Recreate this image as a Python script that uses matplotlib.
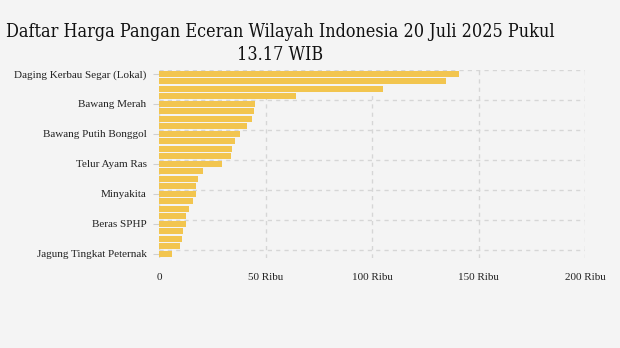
import matplotlib.pyplot as plt
import numpy as np

# data (harga dalam rupiah)
categories = [
    "Daging Kerbau Segar (Lokal)", "Daging Sapi Murni", "Daging Kerbau Beku (Impor)",
    "Cabai Rawit Merah", "Bawang Merah", "Cabai Merah Keriting", "Cabai Merah Besar",
    "Ikan Bandeng", "Bawang Putih Bonggol", "Ikan Kembung", "Daging Ayam Ras",
    "Ikan Tongkol", "Telur Ayam Ras", "Minyak Goreng Kemasan", "Gula Konsumsi",
    "Minyak Goreng Curah", "Minyakita", "Beras Premium", "Beras Medium",
    "Tepung Terigu Kemasan", "Beras SPHP", "Garam Konsumsi", "Kedelai Biji Kering (Impor)",
    "Tepung Terigu Curah", "Jagung Tingkat Peternak",
]
values = [
    140900, 134700, 105300, 64100, 45300, 44800, 43800, 41100, 38200, 35500,
    34400, 33900, 29400, 20500, 18200, 17200, 17200, 15800, 14000, 12600,
    12600, 11200, 10700, 9800, 6000,
]
xticks = [0, 50000, 100000, 150000, 200000]
xtick_labels = ["0", "50 Ribu", "100 Ribu", "150 Ribu", "200 Ribu"]

bg = "#f4f4f4"
fig = plt.figure(figsize=(6.2, 3.48), dpi=100, facecolor=bg)
ax = fig.add_axes([159/620, 1-257.5/348, 426/620, 187.5/348], facecolor=bg)

y = np.arange(len(categories))
ax.barh(y, values, height=0.8, color="#f2c54f", zorder=3)

ax.set_xlim(0, 200000)
ax.set_ylim(len(categories) - 0.5, -0.5)

# grid putus-putus
for xv in xticks:
    ax.axvline(xv, color="#d6d6d6", lw=1, ls=(0, (3, 3)), zorder=1)
for yv in np.arange(-0.5, len(categories) - 1, 4):
    ax.axhline(yv, color="#d6d6d6", lw=1, ls=(0, (3, 3)), zorder=1)

for s in ax.spines.values():
    s.set_visible(False)

lab_pos = list(range(0, len(categories), 4))
ax.set_yticks(lab_pos)
ax.set_yticklabels([categories[i] for i in lab_pos], family="Liberation Serif",
                   fontsize=8, color="#222222")
ax.tick_params(axis="y", length=4, color="#d0d0d0", pad=5)
ax.set_xticks(xticks)
ax.set_xticklabels(xtick_labels, family="Liberation Serif", fontsize=8, color="#222222")
ax.tick_params(axis="x", length=0, pad=11)

fig.text(0.452, 0.935, "Daftar Harga Pangan Eceran Wilayah Indonesia 20 Juli 2025 Pukul\n13.17 WIB",
         ha="center", va="top", family="DejaVu Serif", fontstretch="condensed",
         fontsize=12.9, color="#111111", linespacing=1.4, multialignment="center")

fig.savefig("out.png", dpi=100, facecolor=bg)
